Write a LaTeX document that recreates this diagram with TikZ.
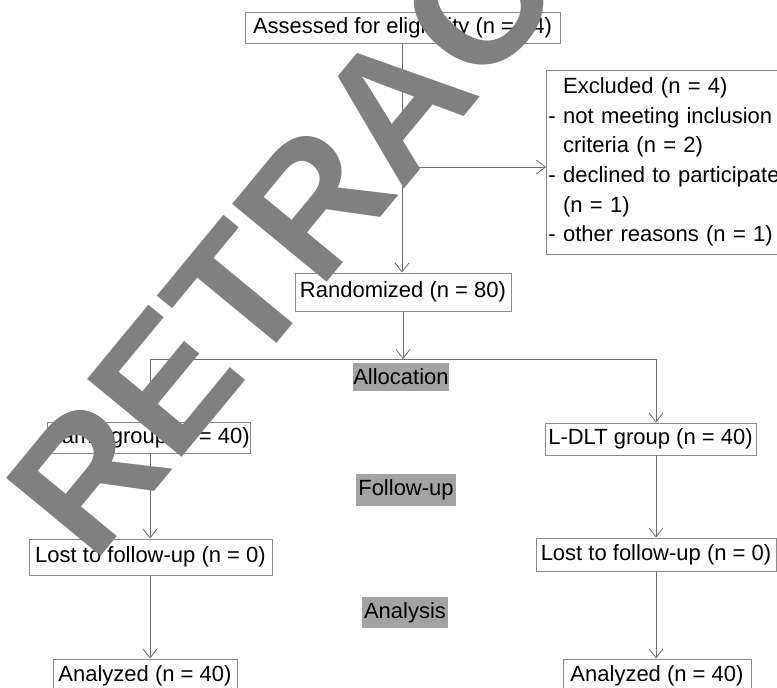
\documentclass[tikz,border=0pt]{standalone}
\usepackage{fontspec}
\setmainfont{Liberation Sans}
\newfontfamily\wmfont{Liberation Sans Bold}
\usetikzlibrary{arrows.meta,calc}
\definecolor{boxgray}{HTML}{8A8A8A}
\definecolor{linegray}{HTML}{6E6E6E}
\definecolor{labgray}{HTML}{A3A3A3}
\definecolor{wmgray}{HTML}{808080}
\tikzset{
  bx/.style={draw=boxgray, line width=0.9pt, inner sep=0pt, align=center, font=\fontsize{22}{29.6}\selectfont},
  lab/.style={fill=labgray, inner sep=0pt, font=\fontsize{22}{26}\selectfont},
  conn/.style={draw=linegray, line width=0.8pt},
  arr/.style={conn, -{Straight Barb[length=9pt,width=14pt,line width=0.8pt]}}
}
\begin{document}
\begin{tikzpicture}[x=1pt,y=-1pt]
\useasboundingbox (0,0) rectangle (777,688);
\begin{scope}
\clip (0,0) rectangle (777,688);
\node[bx, minimum width=315, minimum height=31] (elig) at (402.5,27.5) {Assessed for eligibility (n = 84)};
\node[bx, text width=246pt, inner xsep=2pt, minimum height=184, align=left, anchor=west] (excl) at (546,162)
 {\phantom{- }Excluded (n = 4)\\- not meeting inclusion\\\phantom{- }criteria (n = 2)\\- declined to participate\\\phantom{- }(n = 1)\\- other reasons (n = 1)};
\node[bx, minimum width=216, minimum height=38] (rand) at (403,292) {Randomized (n = 80)};
\node[lab, minimum width=94, minimum height=28] (alloc) at (401,377) {Allocation};
\node[bx, minimum width=203, minimum height=31] (grpL) at (148.5,437.5) {Same group (n = 40)};
\node[bx, minimum width=211, minimum height=32] (grpR) at (650.5,439) {L-DLT group (n = 40)};
\node[lab, minimum width=100, minimum height=32] (follow) at (406,490) {Follow-up};
\node[bx, minimum width=243, minimum height=36] (lostL) at (150.5,557) {Lost to follow-up (n = 0)};
\node[bx, minimum width=240, minimum height=33] (lostR) at (656,554.5) {Lost to follow-up (n = 0)};
\node[lab, minimum width=86, minimum height=31] (analysis) at (405,612.5) {Analysis};
\node[bx, minimum width=184, minimum height=34] (anL) at (145,676) {Analyzed (n = 40)};
\node[bx, minimum width=188, minimum height=34] (anR) at (657,676) {Analyzed (n = 40)};

\coordinate (split) at (402,167);
\coordinate (bl) at (150,359);
\coordinate (bm) at (403,359);
\coordinate (br) at (656,359);

\draw[arr] (elig.south -| split) -- (split |- rand.north);
\draw[arr] (split) -- (split -| excl.west);
\draw[arr] (rand.south -| bm) -- (bm);
\draw[conn] (bl) -- (br);
\draw[arr] (bl) -- (bl |- grpL.north);
\draw[arr] (br) -- (br |- grpR.north);
\draw[arr] (bl |- grpL.south) -- (bl |- lostL.north);
\draw[arr] (br |- grpR.south) -- (br |- lostR.north);
\draw[arr] (bl |- lostL.south) -- (bl |- anL.north);
\draw[arr] (br |- lostR.south) -- (br |- anR.north);

\node[text=wmgray, inner sep=0pt, anchor=base west, rotate=50.5, font=\wmfont\fontsize{178}{178}\selectfont] (wm) at (93,566) {RETRACTED};
\end{scope}
\end{tikzpicture}
\end{document}
